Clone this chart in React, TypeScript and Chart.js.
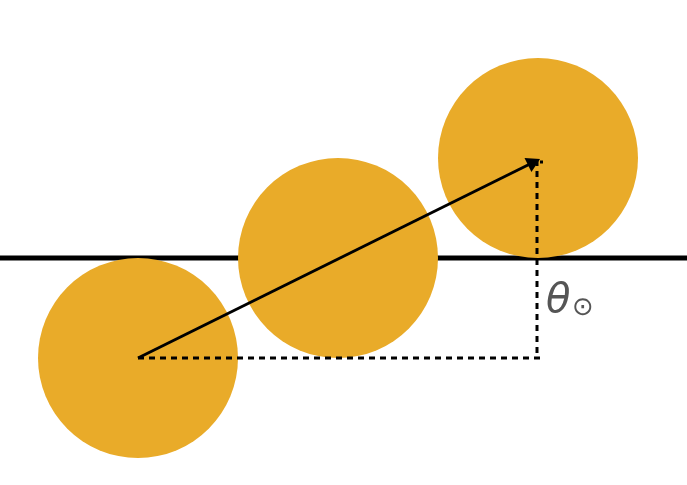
import React, { useEffect, useRef } from "react";
import { Chart, registerables } from "chart.js";
Chart.register(...registerables);

const circleX = [138, 338, 538];
const circleY = [358, 258, 158];
const horizonY = 258;
const arrowStart = { x: 138, y: 358 };
const arrowEnd = { x: 538, y: 160 };

export default function App() {
  const ref = useRef<HTMLCanvasElement>(null);
  useEffect(() => {
    const dx = arrowEnd.x - arrowStart.x;
    const dy = arrowStart.y - arrowEnd.y;
    const rot = 90 - (Math.atan2(dy, dx) * 180) / Math.PI;
    const textPlugin = {
      id: "txt",
      afterDatasetsDraw(c: any) {
        const ctx = c.ctx;
        const x = c.scales.x.getPixelForValue(546);
        const y = c.scales.y.getPixelForValue(302);
        ctx.save();
        ctx.fillStyle = "#555555";
        ctx.textBaseline = "middle";
        ctx.font = "italic 40px 'DejaVu Sans'";
        ctx.fillText("θ", x, y);
        ctx.font = "26px 'DejaVu Sans'";
        ctx.fillText("⊙", x + 26, y + 6);
        ctx.restore();
      },
    };
    const dash = (pts: { x: number; y: number }[]) =>
      ({
        type: "line",
        data: pts,
        borderColor: "#000",
        borderWidth: 3,
        borderDash: [6, 5],
        pointRadius: 0,
        order: 1,
        clip: false,
      } as any);
    const chart = new Chart(ref.current!, {
      type: "scatter",
      data: {
        datasets: [
          {
            type: "line",
            data: [{ x: 0, y: horizonY }, { x: 687, y: horizonY }],
            borderColor: "#000",
            borderWidth: 5,
            pointRadius: 0,
            order: 3,
            clip: false,
          } as any,
          {
            type: "bubble",
            data: circleX.map((x, i) => ({ x, y: circleY[i], r: 100 })),
            backgroundColor: "#e9ab29",
            borderWidth: 0,
            order: 2,
            clip: false,
          } as any,
          dash([{ x: arrowStart.x, y: arrowStart.y }, { x: arrowEnd.x + 5, y: arrowStart.y }]),
          dash([{ x: 537, y: arrowEnd.y }, { x: 537, y: arrowStart.y }]),
          dash([{ x: 529, y: 162 }, { x: 543, y: 162 }]),
          {
            type: "line",
            data: [{ x: arrowStart.x, y: arrowStart.y }, { x: arrowEnd.x - 6, y: arrowEnd.y + 3 }],
            borderColor: "#000",
            borderWidth: 3,
            pointRadius: [0, 9],
            pointStyle: "triangle",
            rotation: rot,
            pointBackgroundColor: "#000",
            pointBorderWidth: 0,
            order: 0,
            clip: false,
          } as any,
        ],
      },
      options: {
        animation: false,
        responsive: false,
        layout: { padding: 0, autoPadding: false },
        plugins: { legend: { display: false }, tooltip: { enabled: false } },
        scales: {
          x: { type: "linear", min: 0, max: 687, display: false },
          y: { type: "linear", min: 0, max: 485, reverse: true, display: false },
        },
        elements: { line: { tension: 0 } },
      } as any,
      plugins: [textPlugin],
    });
    return () => chart.destroy();
  }, []);
  return (
    <div style={{ position: "fixed", left: 0, top: 0, width: 687, height: 485, background: "#fff" }}>
      <canvas ref={ref} width={687} height={485} style={{ width: 687, height: 485 }} />
    </div>
  );
}
